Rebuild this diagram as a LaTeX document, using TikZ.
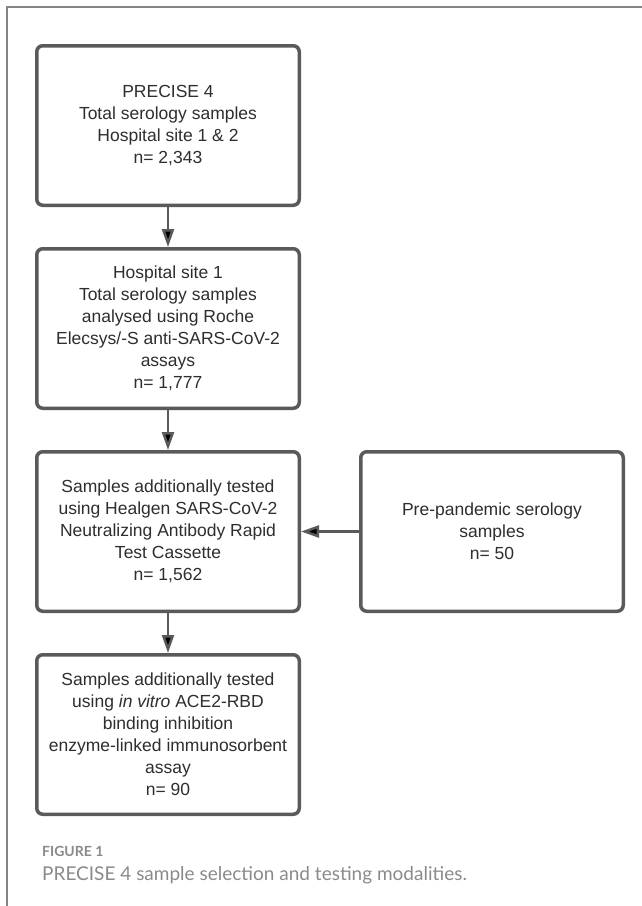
\documentclass[tikz,border=0pt]{standalone}
\usepackage{fontspec}
\setmainfont{Liberation Sans}
\newfontfamily\capfont{Lato}
\usetikzlibrary{arrows.meta,positioning}
\definecolor{boxgray}{HTML}{5A5A5A}
\definecolor{framegray}{HTML}{858585}
\definecolor{capgray}{HTML}{8A8A8A}
\definecolor{textgray}{HTML}{2E2E2E}
\tikzset{stage/.style={draw=boxgray, line width=3.5pt, rounded corners=6pt, fill=white,
    minimum width=262.5pt, minimum height=159.5pt, inner sep=0pt, align=center,
    text=textgray, font=\fontsize{17.5pt}{22pt}\selectfont}}

\begin{document}
\begin{tikzpicture}[>={Triangle[length=18pt,width=12pt]},node distance=40pt]
        \useasboundingbox (0,0) rectangle (642pt,-906pt);
        \draw [framegray,line width=1.5pt] (642pt,-7pt) -- (7pt,-7pt) -- (7pt,-906pt);
        \node [stage] (total) at (168pt,-125.5pt) {PRECISE 4\\Total serology samples\\Hospital site 1 \& 2\\n= 2,343};
        \node [stage] (site) [below=of total] {Hospital site 1\\Total serology samples\\analysed using Roche\\Elecsys/-S anti-SARS-CoV-2\\assays\\n= 1,777};
        \node [stage] (healgen) [below=of site] {Samples additionally tested\\using Healgen SARS-CoV-2\\Neutralizing Antibody Rapid\\Test Cassette\\n= 1,562};
        \node [stage] (prepan) [right=58pt of healgen] {Pre-pandemic serology\\samples\\n= 50};
        \node [stage] (elisa) [below=of healgen] {Samples additionally tested\\using \textit{in vitro} ACE2-RBD\\binding inhibition\\enzyme-linked immunosorbent\\assay\\n= 90};
        \path [->,draw=boxgray,line width=2.5pt]
        (total) edge (site)
        (site) edge (healgen)
        (healgen) edge (elisa)
        (prepan) edge (healgen);
        % caption
        \node [anchor=base west,inner sep=0pt,text=capgray,font=\capfont\bfseries\fontsize{14pt}{16pt}\selectfont] (fig) at (42pt,-856.7pt) {FIGURE 1};
        \node [anchor=base west,inner sep=0pt,text=capgray,font=\capfont\fontsize{19pt}{22pt}\selectfont] (cap) at (42pt,-880.7pt) {PRECISE 4 sample selection and testing modalities.};
\end{tikzpicture}
\end{document}
